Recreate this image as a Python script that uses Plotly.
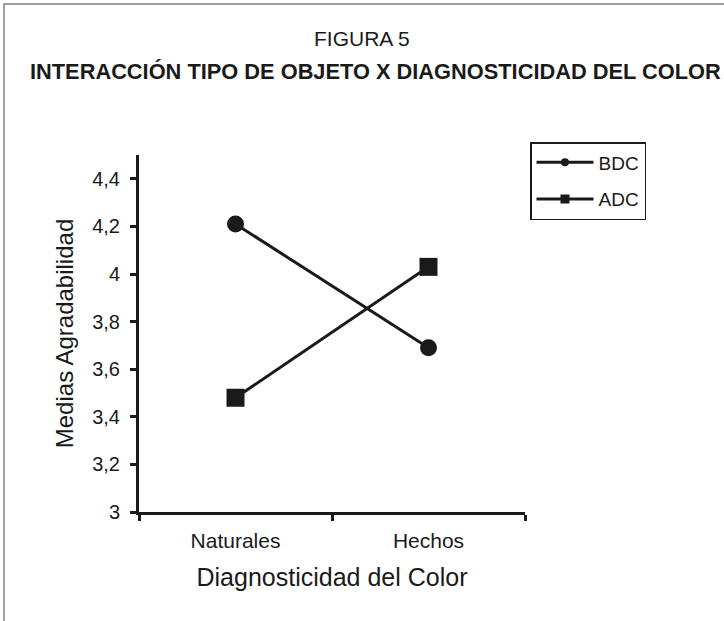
import plotly.graph_objects as go

categories = ["Naturales", "Hechos"]
bdc_values = [4.21, 3.69]
adc_values = [3.48, 4.03]
y_ticks = [3, 3.2, 3.4, 3.6, 3.8, 4, 4.2, 4.4]
y_tick_labels = ["3", "3,2", "3,4", "3,6", "3,8", "4", "4,2", "4,4"]

W, H = 724, 621
L, R, T, B = 139, 525, 155, 512

def px(xp):
    return (xp - L) / (R - L)

def py(yp):
    return (B - yp) / (B - T)

FONT = "Liberation Sans, Arial, sans-serif"
INK = "#1a1a1a"

fig = go.Figure()
fig.add_trace(go.Scatter(x=categories, y=bdc_values, name="BDC", mode="lines+markers",
                         showlegend=False,
                         line=dict(color=INK, width=3),
                         marker=dict(symbol="circle", size=17, color=INK)))
fig.add_trace(go.Scatter(x=categories, y=adc_values, name="ADC", mode="lines+markers",
                         showlegend=False,
                         line=dict(color=INK, width=3),
                         marker=dict(symbol="square", size=18, color=INK)))
# legend entries with the small legend symbols
fig.add_trace(go.Scatter(x=[None], y=[None], name="BDC", mode="lines+markers",
                         legendgroup="a",
                         line=dict(color=INK, width=3),
                         marker=dict(symbol="circle", size=8, color=INK)))
fig.add_trace(go.Scatter(x=[None], y=[None], name="ADC", mode="lines+markers",
                         legendgroup="b",
                         line=dict(color=INK, width=3),
                         marker=dict(symbol="square", size=9, color=INK)))

fig.update_layout(
    width=W, height=H,
    margin=dict(l=L, r=W - R, t=T, b=H - B),
    paper_bgcolor="white", plot_bgcolor="white",
    font=dict(family=FONT, color=INK),
    showlegend=True,
    legend=dict(x=px(530), y=py(142), xanchor="left", yanchor="top",
                bordercolor=INK, borderwidth=1.5, bgcolor="white",
                font=dict(size=19, family=FONT), itemwidth=57,
                traceorder="grouped", tracegroupgap=9),
    xaxis=dict(type="category", range=[-0.5, 1.5], showline=True, linecolor=INK,
               linewidth=3, ticks="outside", tickson="boundaries", ticklen=6,
               tickwidth=2.5, tickcolor=INK, showgrid=False, zeroline=False,
               tickfont=dict(size=21), ticklabelstandoff=8,
               title=dict(text="Diagnosticidad del Color", font=dict(size=25), standoff=18)),
    yaxis=dict(range=[3, 4.5], tickvals=y_ticks, ticktext=y_tick_labels, showline=True,
               linecolor=INK, linewidth=3, ticks="outside", ticklen=6, tickwidth=2.5,
               tickcolor=INK, showgrid=False, zeroline=False, tickfont=dict(size=20),
               ticklabelstandoff=6,
               title=dict(text="Medias Agradabilidad", font=dict(size=24), standoff=12)),
    shapes=[dict(type="rect", xref="paper", yref="paper",
                 x0=px(4), y0=py(640), x1=px(740), y1=py(4),
                 line=dict(color="#808080", width=1.5), fillcolor="rgba(0,0,0,0)", layer="below")],
    annotations=[
        dict(text="FIGURA 5", xref="paper", yref="paper", x=px(362), y=py(38),
             showarrow=False, font=dict(size=21), xanchor="center", yanchor="middle"),
        dict(text="<b>INTERACCIÓN TIPO DE OBJETO X DIAGNOSTICIDAD DEL COLOR</b>", xref="paper",
             yref="paper", x=px(375), y=py(72), showarrow=False, font=dict(size=21.8),
             xanchor="center", yanchor="middle"),
    ],
)

fig.write_html("out.html")
